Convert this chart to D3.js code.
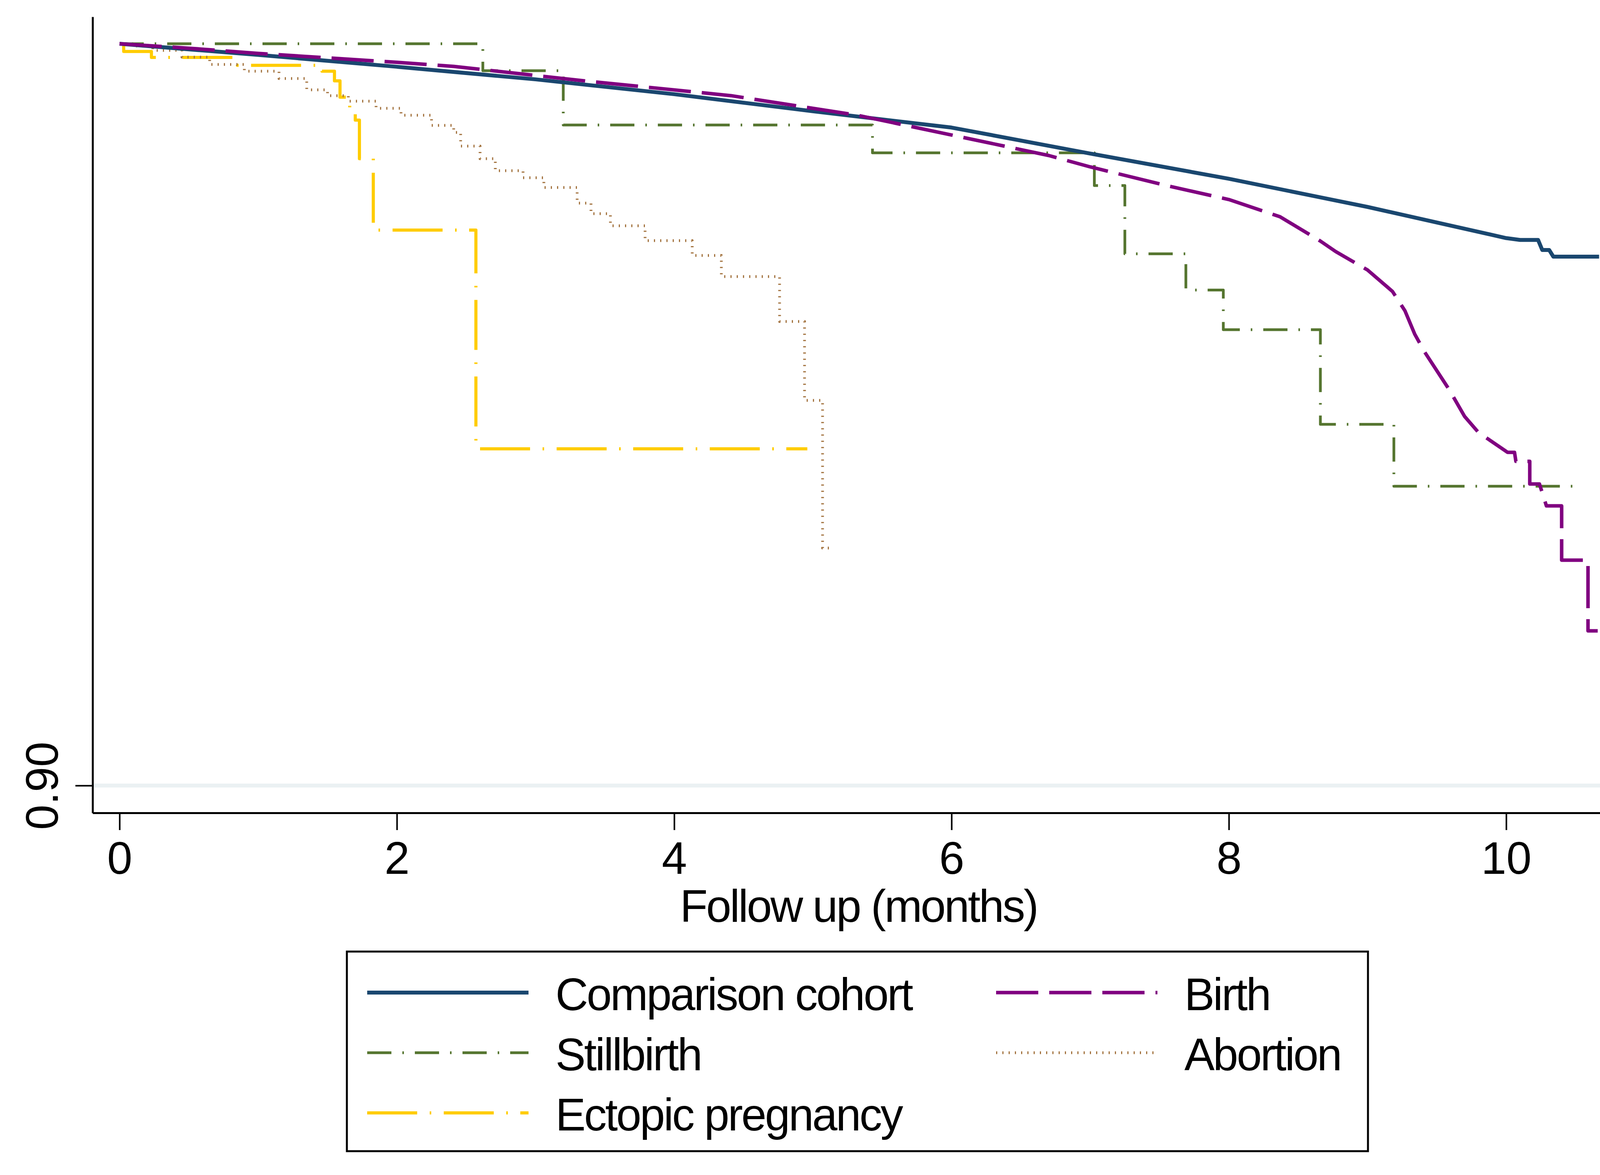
<!DOCTYPE html>
<html>
<head>
<meta charset="utf-8">
<script src="https://cdn.jsdelivr.net/npm/d3@7"></script>
<style>
  html, body { margin: 0; padding: 0; background: #fff; overflow: hidden; }
  svg { display: block; }
  text { font-family: "Liberation Sans", Arial, Helvetica, sans-serif; fill: #000; }
</style>
</head>
<body>
<div id="chart"></div>
<script>
// tick labels
const xTicks = [0, 2, 4, 6, 8, 10];
const yTicks = [0.90];

// Comparison cohort (near-continuous curve)
const cohortT = [0, 1, 2, 3, 4, 5, 6, 7, 8, 9, 10, 10.1, 10.23, 10.26, 10.31, 10.34, 10.67];
const cohortS = [1.0, 0.9985, 0.9969, 0.9952, 0.9932, 0.9909, 0.9887, 0.9852, 0.9818, 0.9780, 0.9738, 0.97355, 0.97355, 0.9722, 0.9722, 0.9713, 0.9713];

// Birth
const birthT = [0, 0.5, 1, 2, 2.41, 3.3, 4.41, 5.32, 6.0, 6.7, 7.0, 7.55, 8.0, 8.37, 8.66, 8.77, 9.0, 9.18, 9.27, 9.34, 9.41, 9.59, 9.7, 9.8, 9.94, 10.01, 10.06, 10.07, 10.17, 10.17, 10.24, 10.29, 10.40, 10.40, 10.59, 10.59, 10.66];
const birthS = [1.0, 0.9994, 0.9987, 0.9975, 0.99695, 0.9951, 0.9930, 0.99037, 0.9877, 0.98494, 0.9834, 0.98088, 0.9790, 0.97667, 0.9734, 0.97199, 0.9695, 0.96661, 0.9640, 0.96087, 0.9585, 0.95334, 0.94976, 0.9476, 0.94581, 0.94492, 0.94492, 0.94371, 0.94371, 0.94065, 0.94065, 0.9377, 0.9377, 0.93038, 0.93038, 0.92085, 0.92085];

// Stillbirth (steps)
const stillT = [0, 2.62, 3.20, 5.43, 7.03, 7.25, 7.69, 7.96, 8.66, 9.19, 10.50];
const stillS = [1.0, 0.99637, 0.98905, 0.98530, 0.98088, 0.97168, 0.96680, 0.96145, 0.94870, 0.94035, 0.94035];

// Abortion (steps)
const abortT = [0, 0.10, 0.24, 0.45, 0.65, 0.90, 1.15, 1.35, 1.50, 1.65, 1.85, 2.03, 2.25, 2.41, 2.46, 2.60, 2.71, 2.91, 3.06, 3.30, 3.40, 3.54, 3.79, 4.13, 4.34, 4.76, 4.94, 5.07, 5.14];
const abortS = [1.0, 0.9997, 0.9991, 0.9982, 0.99721, 0.9963, 0.99531, 0.99379, 0.9930, 0.99226, 0.9913, 0.99036, 0.9890, 0.98805, 0.9862, 0.9845, 0.98289, 0.98194, 0.98062, 0.97851, 0.97709, 0.97546, 0.97346, 0.97146, 0.96861, 0.96256, 0.95192, 0.93202, 0.93202];

// Ectopic pregnancy (steps)
const ectoT = [0, 0.03, 0.23, 0.85, 1.46, 1.55, 1.59, 1.66, 1.70, 1.73, 1.83, 2.57, 4.96];
const ectoS = [1.0, 0.99896, 0.99815, 0.99709, 0.9963, 0.9950, 0.9928, 0.9910, 0.9897, 0.9845, 0.97488, 0.94539, 0.94539];

const series = [
  { name: "Comparison cohort", t: cohortT, s: cohortS, color: "#1a476f", width: 10, dash: null, step: false },
  { name: "Stillbirth", t: stillT, s: stillS, color: "#55752f", width: 7, dash: "62 28 4 28", step: true },
  { name: "Ectopic pregnancy", t: ectoT, s: ectoS, color: "#ffcc00", width: 8, dash: "128 32 4 32", step: true },
  { name: "Birth", t: birthT, s: birthS, color: "#800080", width: 9, dash: "108 28", step: false },
  { name: "Abortion", t: abortT, s: abortS, color: "#a3733f", width: 7, dash: "3 13", step: true }
];
// draw order: bottom to top
const drawOrder = ["Ectopic pregnancy", "Abortion", "Stillbirth", "Comparison cohort", "Birth"];

const W = 4207, H = 3008;

const x = d3.scaleLinear().domain([-0.1944, 10.854]).range([237, 4159]);
const y = d3.scaleLinear().domain([0.896314, 1.003633]).range([2081, 43]);

const svg = d3.select("#chart").append("svg")
  .attr("width", W)
  .attr("height", H)
  .style("background", "#fff");

// light line at 0.90
svg.selectAll(".grid")
  .data(yTicks)
  .enter().append("line")
  .attr("x1", x.range()[0]).attr("x2", x.range()[1])
  .attr("y1", d => y(d)).attr("y2", d => y(d))
  .attr("stroke", "#ebf1f3")
  .attr("stroke-width", 10);

// curves
drawOrder.forEach(nm => {
  const sr = series.find(d => d.name === nm);
  const pts = sr.t.map((t, i) => ({ t: t, s: sr.s[i] }));
  const line = d3.line()
    .x(d => x(d.t))
    .y(d => y(d.s))
    .curve(sr.step ? d3.curveStepAfter : d3.curveLinear);
  svg.append("path")
    .datum(pts)
    .attr("d", line)
    .attr("fill", "none")
    .attr("stroke", sr.color)
    .attr("stroke-width", sr.width)
    .attr("stroke-dasharray", sr.dash)
    .attr("stroke-linejoin", "round");
});

// axes
const xAxis = svg.append("g")
  .attr("transform", `translate(0,${y.range()[0]})`)
  .call(d3.axisBottom(x).tickValues(xTicks).tickSizeInner(44).tickSizeOuter(0).tickFormat(d3.format("d")));
xAxis.select(".domain").attr("stroke", "#000").attr("stroke-width", 5);
xAxis.selectAll(".tick line").attr("stroke", "#000").attr("stroke-width", 4);
xAxis.selectAll(".tick text")
  .attr("y", 156).attr("dy", 0)
  .attr("font-size", 116)
  .attr("fill", "#000")
  .style("font-family", '"Liberation Sans", Arial, sans-serif');

const yAxis = svg.append("g")
  .attr("transform", `translate(${x.range()[0]},0)`)
  .call(d3.axisLeft(y).tickValues(yTicks).tickSizeInner(44).tickSizeOuter(0).tickFormat(d3.format(".2f")));
yAxis.select(".domain").attr("stroke", "#000").attr("stroke-width", 5);
yAxis.selectAll(".tick line").attr("stroke", "#000").attr("stroke-width", 4);
yAxis.selectAll(".tick text")
  .attr("transform", "rotate(-90)")
  .attr("x", 0).attr("y", -89).attr("dy", 0)
  .attr("text-anchor", "middle")
  .attr("font-size", 116)
  .attr("fill", "#000")
  .style("font-family", '"Liberation Sans", Arial, sans-serif');

// x title
svg.append("text")
  .attr("x", (x.range()[0] + x.range()[1]) / 2)
  .attr("y", 2360)
  .attr("text-anchor", "middle")
  .attr("font-size", 116)
  .attr("letter-spacing", "-4px")
  .text("Follow up (months)");

// legend
const legendBox = { x: 888, y: 2436, w: 2614, h: 511 };
svg.append("rect")
  .attr("x", legendBox.x).attr("y", legendBox.y)
  .attr("width", legendBox.w).attr("height", legendBox.h)
  .attr("fill", "#fff")
  .attr("stroke", "#000")
  .attr("stroke-width", 5);

const colX = [940, 2550];
const rowY = [2541, 2695, 2849];
const legendItems = [
  { name: "Comparison cohort", col: 0, row: 0 },
  { name: "Stillbirth", col: 0, row: 1 },
  { name: "Ectopic pregnancy", col: 0, row: 2 },
  { name: "Birth", col: 1, row: 0 },
  { name: "Abortion", col: 1, row: 1 }
];

const lg = svg.selectAll(".legend")
  .data(legendItems)
  .enter().append("g")
  .attr("class", "legend")
  .attr("transform", d => `translate(${colX[d.col]},${rowY[d.row]})`);

lg.append("line")
  .attr("x1", 0).attr("x2", 413)
  .attr("y1", 0).attr("y2", 0)
  .attr("stroke", d => series.find(s => s.name === d.name).color)
  .attr("stroke-width", d => series.find(s => s.name === d.name).width)
  .attr("stroke-dasharray", d => series.find(s => s.name === d.name).dash);

lg.append("text")
  .attr("x", 482)
  .attr("y", 45)
  .attr("font-size", 116)
  .attr("letter-spacing", "-4px")
  .text(d => d.name);
</script>
</body>
</html>
